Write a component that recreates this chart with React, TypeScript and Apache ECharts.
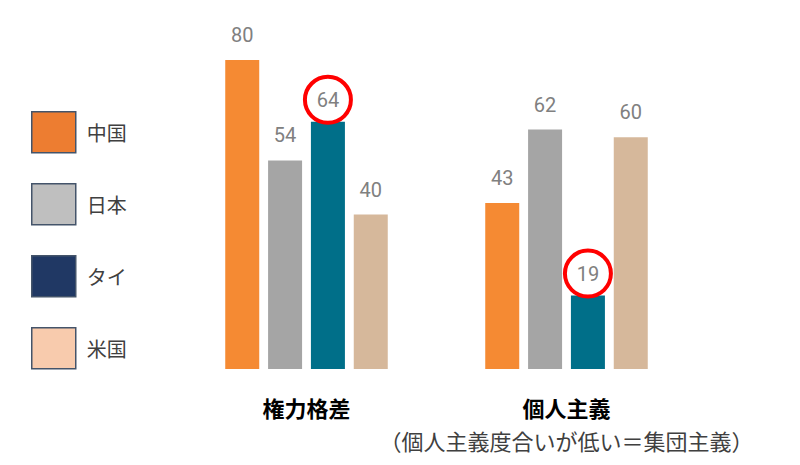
import React, { useEffect, useRef } from "react";
import * as echarts from "echarts";

const categories = ["権力格差", "個人主義"];
const categoryNotes = ["", "（個人主義度合いが低い＝集団主義）"];
const seriesNames = ["中国", "日本", "タイ", "米国"];
const china = [80, 43];
const japan = [54, 62];
const thai = [64, 19];
const usa = [40, 60];
const highlighted = [false, false, true, false]; // circled series (タイ)

const barColors = ["#F58A33", "#A5A5A5", "#006F89", "#D6B89B"];
const legendColors = ["#ED7D31", "#BFBFBF", "#203864", "#F8CBAD"];

export default function App() {
  const ref = useRef<HTMLDivElement>(null);
  useEffect(() => {
    if (!ref.current) return;
    const chart = echarts.init(ref.current, null, { renderer: "svg" });
    const values = [china, japan, thai, usa];
    const normalLabel = {
      show: true,
      position: "top",
      distance: 15,
      color: "#808080",
      fontSize: 20,
      fontFamily: "Roboto",
    };
    const circledLabel = {
      show: true,
      position: "top",
      distance: 22,
      color: "#808080",
      fontSize: 20,
      fontFamily: "Roboto",
      width: 46,
      height: 46,
      lineHeight: 46,
      align: "center",
      verticalAlign: "middle",
      borderColor: "#FF0000",
      borderWidth: 4,
      borderRadius: 27,
      padding: 0,
    };
    const series = seriesNames.map((name, i) => ({
      name,
      type: "bar",
      barWidth: 34,
      barGap: "26%",
      itemStyle: { color: barColors[i] },
      label: highlighted[i] ? circledLabel : normalLabel,
      data: values[i],
    }));
    chart.setOption({
      animation: false,
      legend: {
        orient: "vertical",
        left: 31,
        top: 111,
        padding: 0,
        itemWidth: 44,
        itemHeight: 41,
        itemGap: 29.5,
        icon: "rect",
        selectedMode: false,
        textStyle: {
          fontSize: 20,
          color: "#404040",
          fontFamily: "Noto Sans CJK JP",
          padding: [0, 0, 0, 6],
        },
        data: seriesNames.map((name, i) => ({
          name,
          itemStyle: {
            color: legendColors[i],
            borderColor: "#44546A",
            borderWidth: 1.5,
          },
        })),
      },
      grid: { left: 176.5, right: 103.5, top: 60, bottom: 96 },
      xAxis: {
        type: "category",
        data: categories,
        axisLine: { show: false },
        axisTick: { show: false },
        axisLabel: {
          margin: 22,
          interval: 0,
          formatter: (v: string, idx: number) =>
            categoryNotes[idx]
              ? `{b|${v}}\n{n|${categoryNotes[idx]}}`
              : `{b|${v}}`,
          rich: {
            b: {
              fontSize: 22,
              fontWeight: "bold",
              color: "#000000",
              fontFamily: "Noto Sans CJK JP",
              lineHeight: 32,
            },
            n: {
              fontSize: 22,
              color: "#404040",
              fontFamily: "Noto Sans CJK JP",
              lineHeight: 34,
            },
          },
        },
      },
      yAxis: {
        type: "value",
        min: 0,
        max: 80,
        show: false,
        splitLine: { show: false },
      },
      series,
    });
    return () => chart.dispose();
  }, []);
  return (
    <div
      ref={ref}
      style={{ position: "absolute", left: 0, top: 0, width: 800, height: 465 }}
    />
  );
}
